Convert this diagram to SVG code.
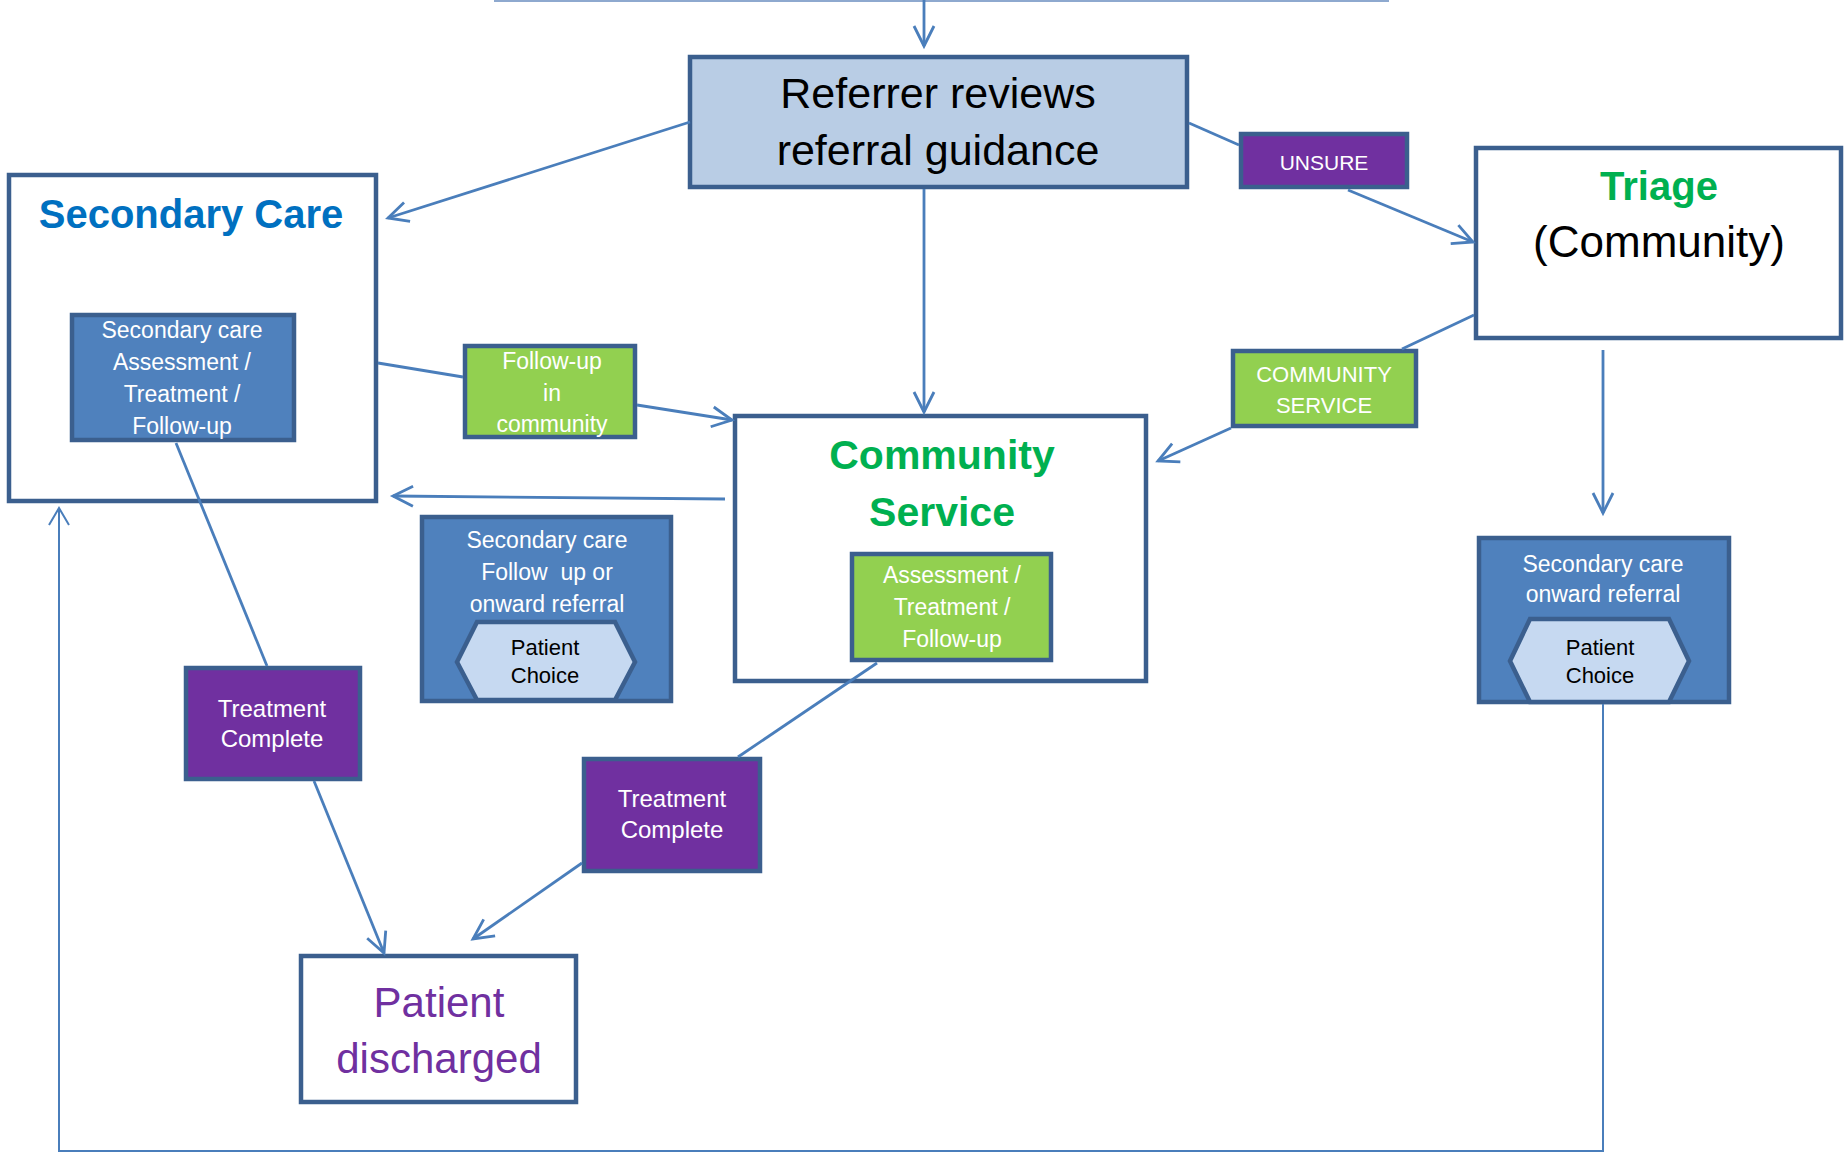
<svg xmlns="http://www.w3.org/2000/svg" width="1845" height="1153" viewBox="0 0 1845 1153">
<defs>
<style>
text{font-family:"Liberation Sans",Arial,sans-serif;text-anchor:middle}
.box{stroke:#3B5F8E;stroke-width:4.5}
.white{fill:#FFFFFF}
.ref{fill:#B9CDE5}
.blue{fill:#4F81BD}
.green{fill:#92D050}
.purple{fill:#7030A0}
.hex{fill:#C6D9F1;stroke:#3B5F8E;stroke-width:4.5}
.wt{fill:#FFFFFF;font-size:23px}
.bt{fill:#000000;font-size:22px}
.conn{stroke:#4A7EBB;stroke-width:2.8;fill:none}
.thin{stroke:#4A7EBB;stroke-width:2;fill:none}
.arr{marker-end:url(#ah)}
</style>
<marker id="ah" viewBox="-24 -12 28 24" refX="0" refY="0" markerWidth="28" markerHeight="24" markerUnits="userSpaceOnUse" orient="auto">
<path d="M-20,-10 L0,0 L-20,10" fill="none" stroke="#4A7EBB" stroke-width="2.8"/>
</marker>
<marker id="ah2" viewBox="-22 -12 26 24" refX="0" refY="0" markerWidth="26" markerHeight="24" markerUnits="userSpaceOnUse" orient="auto">
<path d="M-17,-10 L0,0 L-17,10" fill="none" stroke="#4A7EBB" stroke-width="2"/>
</marker>
</defs>
<rect x="0" y="0" width="1845" height="1153" fill="#FFFFFF"/>

<g id="referrer">
<rect class="box ref" x="690" y="57" width="497" height="130"/>
<text x="938" y="108" font-size="43" fill="#000">Referrer reviews</text>
<text x="938" y="165" font-size="43" fill="#000">referral guidance</text>
</g>

<g id="secondary-care">
<rect class="box white" x="9" y="175" width="367" height="326"/>
<text x="191" y="228" font-size="40" font-weight="bold" fill="#0070C0">Secondary Care</text>
</g>
<g id="secondary-care-assessment">
<rect class="box blue" x="72" y="315" width="222" height="125"/>
<text class="wt" x="182" y="338">Secondary care</text>
<text class="wt" x="182" y="370">Assessment /</text>
<text class="wt" x="182" y="402">Treatment /</text>
<text class="wt" x="182" y="434">Follow-up</text>
</g>

<g id="follow-up-community">
<rect class="box green" x="465" y="346" width="170" height="91"/>
<text class="wt" x="552" y="369">Follow-up</text>
<text class="wt" x="552" y="401">in</text>
<text class="wt" x="552" y="432">community</text>
</g>

<g id="secondary-followup">
<rect class="box blue" x="422" y="517" width="249" height="184"/>
<text class="wt" x="547" y="548">Secondary care</text>
<text class="wt" x="547" y="580" xml:space="preserve">Follow  up or</text>
<text class="wt" x="547" y="612">onward referral</text>
</g>
<g id="patient-choice-1">
<polygon class="hex" points="457,662 477,622 615,622 635,662 615,700 477,700"/>
<text class="bt" x="545" y="655">Patient</text>
<text class="bt" x="545" y="683">Choice</text>
</g>

<g id="community-service">
<rect class="box white" x="735" y="416" width="411" height="265"/>
<text x="942" y="469" font-size="41" font-weight="bold" fill="#00B050">Community</text>
<text x="942" y="526" font-size="41" font-weight="bold" fill="#00B050">Service</text>
</g>
<g id="community-assessment">
<rect class="box green" x="852" y="554" width="199" height="106"/>
<text class="wt" x="952" y="583">Assessment /</text>
<text class="wt" x="952" y="615">Treatment /</text>
<text class="wt" x="952" y="647">Follow-up</text>
</g>

<g id="unsure">
<rect class="box purple" x="1241" y="134" width="166" height="53"/>
<text x="1324" y="170" font-size="21" fill="#FFFFFF">UNSURE</text>
</g>

<g id="triage">
<rect class="box white" x="1476" y="148" width="365" height="190"/>
<text x="1659" y="200" font-size="40" font-weight="bold" fill="#00B050">Triage</text>
<text x="1659" y="257" font-size="44" fill="#000">(Community)</text>
</g>

<g id="community-service-label">
<rect class="box green" x="1233" y="351" width="183" height="75"/>
<text x="1324" y="382" font-size="22" fill="#FFFFFF">COMMUNITY</text>
<text x="1324" y="413" font-size="22" fill="#FFFFFF">SERVICE</text>
</g>

<g id="secondary-onward">
<rect class="box blue" x="1479" y="538" width="250" height="164"/>
<text class="wt" x="1603" y="572">Secondary care</text>
<text class="wt" x="1603" y="602">onward referral</text>
</g>
<g id="patient-choice-2">
<polygon class="hex" points="1510,661 1530,619 1669,619 1689,661 1669,702 1530,702"/>
<text class="bt" x="1600" y="655">Patient</text>
<text class="bt" x="1600" y="683">Choice</text>
</g>

<g id="treatment-complete-1">
<rect class="box purple" x="186" y="668" width="174" height="111"/>
<text x="272" y="717" font-size="24" fill="#FFFFFF">Treatment</text>
<text x="272" y="747" font-size="24" fill="#FFFFFF">Complete</text>
</g>

<g id="treatment-complete-2">
<rect class="box purple" x="584" y="759" width="176" height="112"/>
<text x="672" y="807" font-size="24" fill="#FFFFFF">Treatment</text>
<text x="672" y="838" font-size="24" fill="#FFFFFF">Complete</text>
</g>

<g id="patient-discharged">
<rect class="box white" x="301" y="956" width="275" height="146"/>
<text x="439" y="1017" font-size="42" fill="#7030A0">Patient</text>
<text x="439" y="1073" font-size="42" fill="#7030A0">discharged</text>
</g>

<g id="connectors">
<line x1="494" y1="1" x2="1389" y2="1" stroke="#8EA9CF" stroke-width="2"/>
<line class="conn arr" x1="924" y1="0" x2="924" y2="46"/>
<line class="conn arr" x1="690" y1="122" x2="388" y2="218"/>
<line class="conn arr" x1="924" y1="189" x2="924" y2="412"/>
<line class="conn" x1="1189" y1="123" x2="1239" y2="145"/>
<line class="conn arr" x1="1348" y1="190" x2="1473" y2="242"/>
<line class="conn" x1="1474" y1="315" x2="1402" y2="349"/>
<line class="conn arr" x1="1231" y1="428" x2="1158" y2="461"/>
<line class="conn arr" x1="1603" y1="350" x2="1603" y2="513"/>
<line class="conn" x1="378" y1="363" x2="463" y2="377"/>
<line class="conn arr" x1="637" y1="405" x2="732" y2="420"/>
<line class="conn arr" x1="725" y1="499" x2="393" y2="496"/>
<line class="conn" x1="176" y1="443" x2="267" y2="666"/>
<line class="conn arr" x1="314" y1="781" x2="384" y2="953"/>
<line class="conn" x1="877" y1="663" x2="738" y2="757"/>
<line class="conn arr" x1="582" y1="863" x2="473" y2="939"/>
<polyline class="thin" points="1603,704 1603,1151 59,1151 59,508" marker-end="url(#ah2)"/>
</g>
</svg>
